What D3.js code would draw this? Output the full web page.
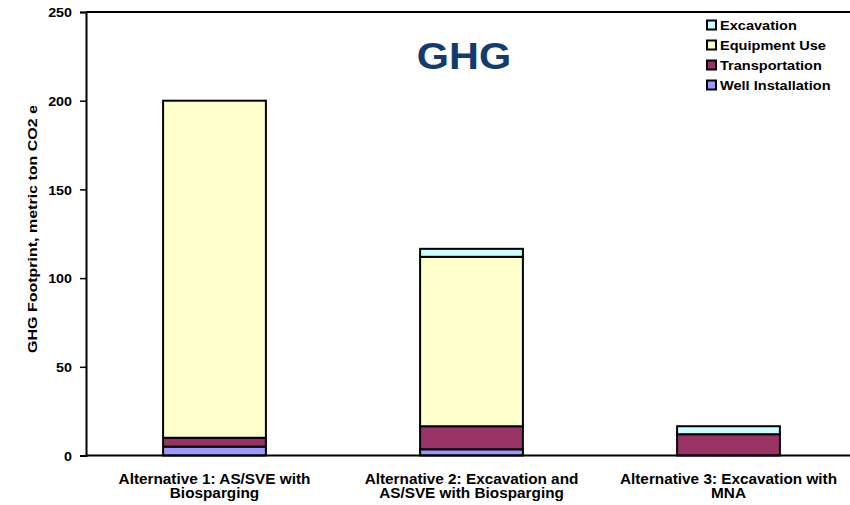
<!DOCTYPE html>
<html><head><meta charset="utf-8">
<script src="https://cdn.jsdelivr.net/npm/d3@7/dist/d3.min.js"></script>
<style>html,body{margin:0;background:#fff;overflow:hidden;} svg{display:block;font-family:"Liberation Sans",Arial,sans-serif;}</style>
</head><body>
<svg id="c" width="850" height="505"></svg>
<script>
const categories = [["Alternative 1: AS/SVE with","Biosparging"],["Alternative 2: Excavation and","AS/SVE with Biosparging"],["Alternative 3: Excavation with","MNA"]];
const seriesNames = ["Well Installation","Transportation","Equipment Use","Excavation"];
const wellInstallation = [5, 3.5, 0];
const transportation = [5, 13, 12];
const equipmentUse = [190, 95.5, 0];
const excavation = [0, 4.5, 4.5];
const yTicks = [0, 50, 100, 150, 200, 250];
const colors = ["#9999FF","#993366","#FFFFCC","#CCFFFF"];
const FF = "Liberation Sans, Arial, sans-serif";

const svg = d3.select("#c");
const x = d3.scaleBand().domain(d3.range(3)).range([86, 857]).paddingInner(0.6).paddingOuter(0.3);
const y = d3.scaleLinear().domain([0, 250]).range([455.5, 12]);

const rows = categories.map((c,i)=>({i, "Well Installation":wellInstallation[i], "Transportation":transportation[i], "Equipment Use":equipmentUse[i], "Excavation":excavation[i]}));
const stack = d3.stack().keys(seriesNames)(rows);

// plot top border
svg.append("line").attr("x1",86).attr("x2",850).attr("y1",y(250)).attr("y2",y(250)).attr("stroke","#000").attr("stroke-width",2);

stack.forEach((s,k)=>{
  svg.append("g").selectAll("rect").data(s.filter(d=>d[1]-d[0]>0)).join("rect")
    .attr("x",d=>x(d.data.i)).attr("width",x.bandwidth())
    .attr("y",d=>y(d[1])).attr("height",d=>y(d[0])-y(d[1]))
    .attr("fill",colors[k]).attr("stroke","#000").attr("stroke-width",2);
});

// y axis
const ya = svg.append("g").attr("transform","translate(86,0)")
  .call(d3.axisLeft(y).tickValues(yTicks).tickSize(6).tickPadding(8));
ya.select(".domain").attr("stroke","#000").attr("stroke-width",2);
ya.selectAll(".tick line").attr("stroke","#000").attr("stroke-width",1.5);
ya.selectAll(".tick text").attr("font-size","13px").attr("font-weight","bold").attr("fill","#000").attr("font-family",FF)
  .attr("x",0).attr("dy",null).attr("transform","translate(-14,4.7) scale(1.1,1)");

// x baseline
svg.append("line").attr("x1",86).attr("x2",850).attr("y1",y(0)).attr("y2",y(0)).attr("stroke","#000").attr("stroke-width",2);

// x labels
categories.forEach((c,i)=>{
  const cx = x(i)+x.bandwidth()/2;
  const t = svg.append("text").attr("text-anchor","middle").attr("font-size","14px").attr("font-weight","bold").attr("font-family",FF)
    .attr("transform",`translate(${cx},484) scale(1.095,1)`);
  c.forEach((line,j)=>t.append("tspan").attr("x",0).attr("y",j*14.5).text(line));
});

// y title
svg.append("text").attr("transform","translate(37,229) rotate(-90)").attr("text-anchor","middle").attr("font-family",FF)
  .attr("font-size","13px").attr("font-weight","bold").attr("textLength",248).attr("lengthAdjust","spacingAndGlyphs")
  .text("GHG Footprint, metric ton CO2 e");

// title
svg.append("text").attr("text-anchor","middle").attr("font-size","37px").attr("font-family",FF)
  .attr("transform","translate(464,69) scale(1.12,1)")
  .attr("font-weight","bold").attr("fill","#123C6E").text("GHG");

// legend
const leg = seriesNames.slice().reverse();
leg.forEach((n,j)=>{
  const cy = 25 + j*20;
  svg.append("rect").attr("x",707).attr("y",cy-4.5).attr("width",9).attr("height",9)
    .attr("fill",colors[seriesNames.indexOf(n)]).attr("stroke","#000").attr("stroke-width",2);
  svg.append("text").attr("transform",`translate(720,${cy+4.5}) scale(1.12,1)`).attr("font-size","13px").attr("font-weight","bold").attr("font-family",FF).text(n);
});
</script>
</body></html>
